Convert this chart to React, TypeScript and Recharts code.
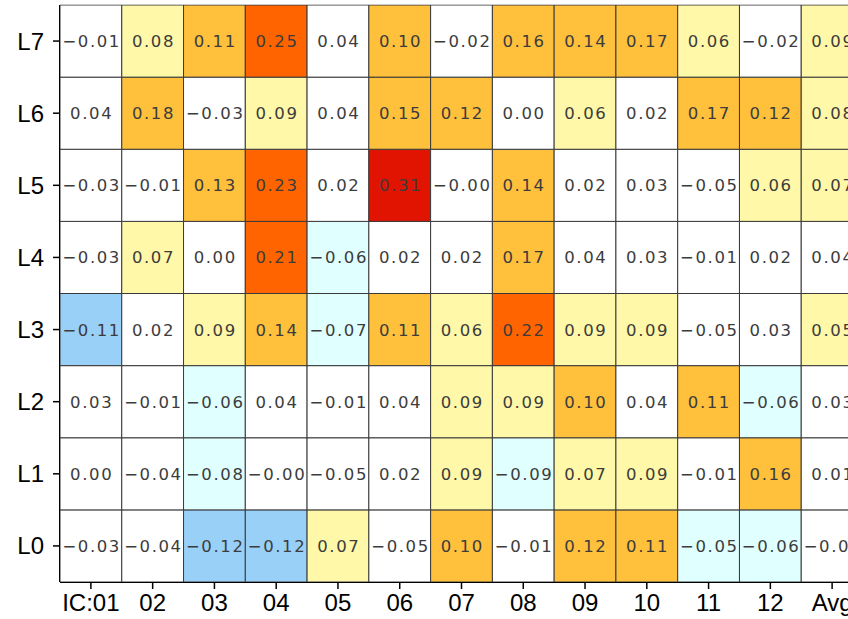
import { ScatterChart, Scatter, XAxis, YAxis, ReferenceLine } from 'recharts'

const colLabels = ['IC:01', '02', '03', '04', '05', '06', '07', '08', '09', '10', '11', '12', 'Avg']
const rowLabels = ['L0', 'L1', 'L2', 'L3', 'L4', 'L5', 'L6', 'L7']

// one array per level, columns IC:01..12 then Avg
const l7 = [-0.01, 0.08, 0.11, 0.25, 0.04, 0.10, -0.02, 0.16, 0.14, 0.17, 0.06, -0.02, 0.09]
const l6 = [0.04, 0.18, -0.03, 0.09, 0.04, 0.15, 0.12, 0.00, 0.06, 0.02, 0.17, 0.12, 0.08]
const l5 = [-0.03, -0.01, 0.13, 0.23, 0.02, 0.31, -0.002, 0.14, 0.02, 0.03, -0.048, 0.06, 0.07]
const l4 = [-0.03, 0.07, 0.00, 0.21, -0.06, 0.02, 0.02, 0.17, 0.04, 0.03, -0.01, 0.02, 0.04]
const l3 = [-0.11, 0.02, 0.09, 0.14, -0.07, 0.11, 0.06, 0.22, 0.09, 0.09, -0.048, 0.03, 0.052]
const l2 = [0.03, -0.01, -0.06, 0.04, -0.01, 0.04, 0.09, 0.09, 0.10, 0.04, 0.11, -0.06, 0.03]
const l1 = [0.00, -0.04, -0.08, -0.002, -0.048, 0.02, 0.09, -0.09, 0.07, 0.09, -0.01, 0.16, 0.01]
const l0 = [-0.03, -0.04, -0.12, -0.12, 0.07, -0.048, 0.10, -0.01, 0.12, 0.11, -0.052, -0.06, -0.02]

const levels = [l0, l1, l2, l3, l4, l5, l6, l7]

const cells = levels.flatMap((vals, r) => vals.map((v, c) => ({ x: c + 1, y: r, v })))

const CHART_W = 866
const CHART_H = 619
const MARGIN = { top: 5, right: 3, bottom: 5, left: 8 }
const Y_AXIS_W = 52
const X_AXIS_H = 32
const CELL_W = (CHART_W - MARGIN.left - MARGIN.right - Y_AXIS_W) / colLabels.length
const CELL_H = (CHART_H - MARGIN.top - MARGIN.bottom - X_AXIS_H) / rowLabels.length

function colorFor(v: number) {
  if (v >= 0.3) return '#e01400'
  if (v >= 0.2) return '#ff6400'
  if (v >= 0.1) return '#ffc03c'
  if (v >= 0.05) return '#fff8a8'
  if (v > -0.05) return '#ffffff'
  if (v > -0.1) return '#e0ffff'
  return '#99d0f8'
}

function fmt(v: number) {
  return v.toFixed(2).replace('-', '\u2212')
}

// eslint-disable-next-line @typescript-eslint/no-explicit-any
function HeatCell(props: any) {
  const { cx, cy, payload } = props
  if (cx == null || cy == null) return null
  return (
    <g>
      <rect
        x={cx - CELL_W / 2}
        y={cy - CELL_H / 2}
        width={CELL_W}
        height={CELL_H}
        fill={colorFor(payload.v)}
        stroke="#3a3a3a"
        strokeWidth={1}
      />
      <text
        x={cx + 0.8}
        y={cy}
        dy="0.36em"
        textAnchor="middle"
        fontFamily="DejaVu Sans"
        fontSize={16.5}
        letterSpacing={1.6}
        fill="#3c3c3c"
      >
        {fmt(payload.v)}
      </text>
    </g>
  )
}

export default function App() {
  return (
    <div style={{ position: 'absolute', left: 0, top: 0, width: 848, height: 619, overflow: 'hidden', background: '#fff' }}>
      <ScatterChart width={CHART_W} height={CHART_H} margin={MARGIN}>
        <ReferenceLine y={7.5} stroke="#c8c8c8" strokeWidth={2} />
        <XAxis
          type="number"
          dataKey="x"
          domain={[0.5, 13.5]}
          ticks={colLabels.map((_, i) => i + 1)}
          tickFormatter={v => colLabels[v - 1]}
          interval={0}
          height={X_AXIS_H}
          tickSize={7}
          tickMargin={5}
          axisLine={{ stroke: '#000', strokeWidth: 2 }}
          tickLine={{ stroke: '#000', strokeWidth: 1.5 }}
          tick={{ fontSize: 24, fill: '#000', fontFamily: 'Liberation Sans' }}
          allowDataOverflow
        />
        <YAxis
          type="number"
          dataKey="y"
          domain={[-0.5, 7.5]}
          ticks={rowLabels.map((_, i) => i)}
          tickFormatter={v => rowLabels[v]}
          interval={0}
          width={Y_AXIS_W}
          tickSize={7}
          tickMargin={9}
          axisLine={{ stroke: '#000', strokeWidth: 2 }}
          tickLine={{ stroke: '#000', strokeWidth: 1.5 }}
          tick={{ fontSize: 24, fill: '#000', fontFamily: 'Liberation Sans' }}
          allowDataOverflow
        />
        <Scatter data={cells} shape={HeatCell} isAnimationActive={false} />
      </ScatterChart>
    </div>
  )
}
